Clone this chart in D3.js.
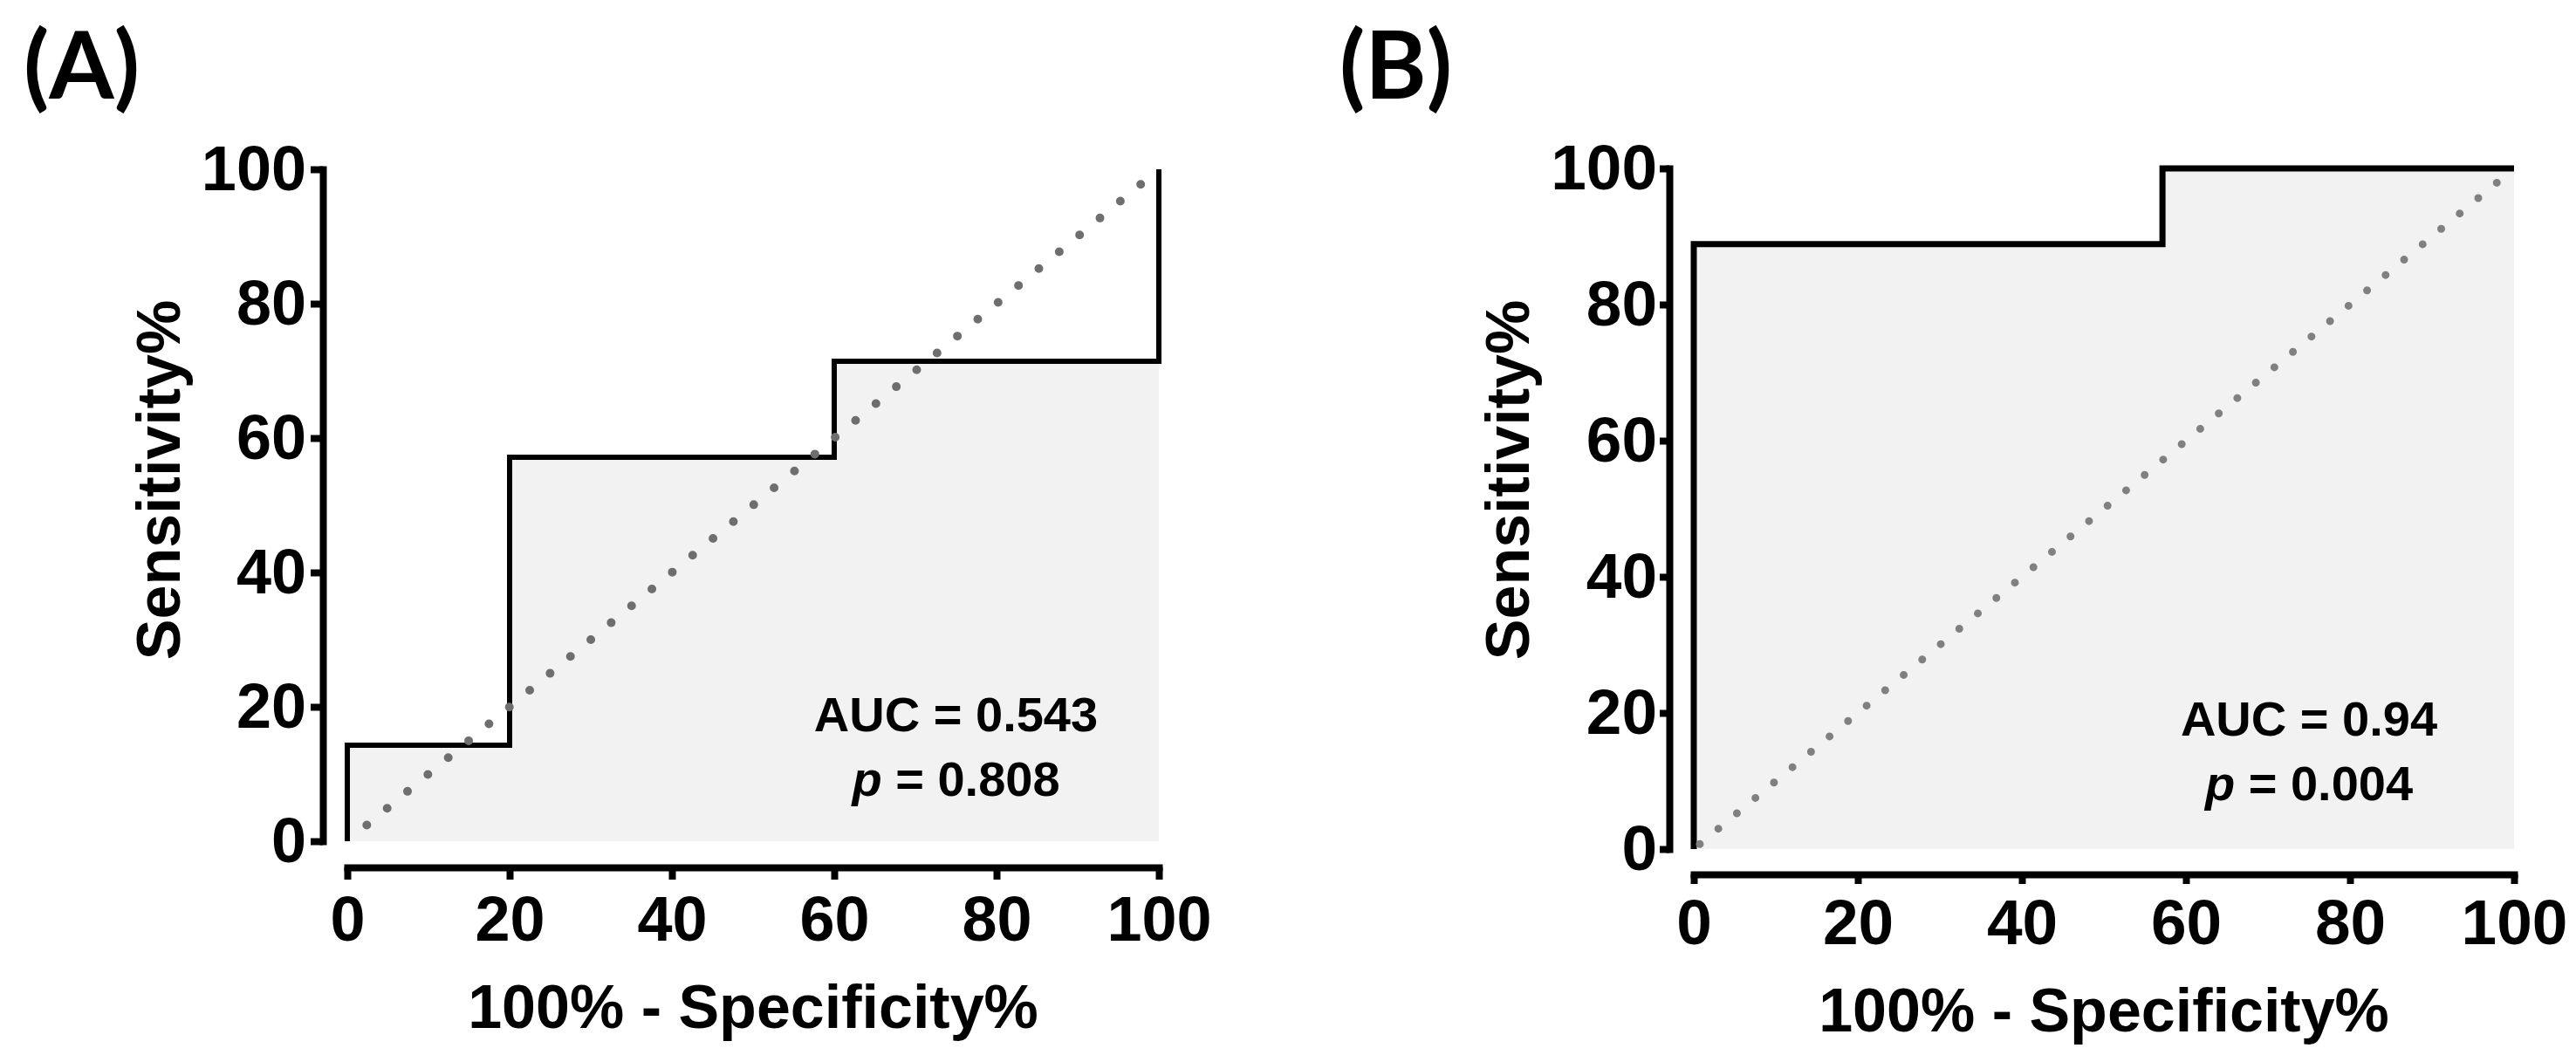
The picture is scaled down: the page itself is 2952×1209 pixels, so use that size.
<!DOCTYPE html>
<html lang="en">
<head>
    <meta charset="UTF-8">
    <title>ROC curves</title>
    <script src="https://cdn.jsdelivr.net/npm/d3@7"></script>
    <style>
        body { margin: 0; background: #fff; }
        svg text { font-family: "Liberation Sans", Arial, sans-serif; font-weight: bold; fill: #000; }
        .panel-label { font-family: Lato, "Open Sans", sans-serif; font-weight: bold; }
    </style>
</head>
<body>
<svg id="canvas" width="2952" height="1209"></svg>
<script>
    // ROC data (x = 100% - specificity%, y = sensitivity%)
    const xTicks = [0, 20, 40, 60, 80, 100];
    const yTicks = [0, 20, 40, 60, 80, 100];

    const rocA_fpr = [0, 0, 20, 20, 60, 60, 100, 100];
    const rocA_tpr = [0, 14.29, 14.29, 57.14, 57.14, 71.43, 71.43, 100];
    const rocB_fpr = [0, 0, 57.14, 57.14, 100];
    const rocB_tpr = [0, 88.89, 88.89, 100, 100];

    const chanceLine = [[0, 0], [100, 100]];

    const panelLabels = ["(A)", "(B)"];
    const aucValues = ["0.543", "0.94"];
    const pValues = ["0.808", "0.004"];

    const xTitle = "100% - Specificity%";
    const yTitle = "Sensitivity%";

    // layout for each panel (pixels)
    const panels = [
        {fpr: rocA_fpr, tpr: rocA_tpr, x0: 398, x1: 1328, y0: 964, y1: 194,
         yAxisX: 370, xAxisY: 994, tick: 14, yPad: 5, xPad: 19, tickFont: 72,
         labelX: 27, yTitleX: 206, curveW: 6, dotColor: "#6e6e6e", dotW: 10, dotGap: 30.3, dotOff: 29,
         textX: 75, textY: 16.4, xTitleY: 1178},
        {fpr: rocB_fpr, tpr: rocB_tpr, x0: 1941, x1: 2881, y0: 973, y1: 193,
         yAxisX: 1913, xAxisY: 1002, tick: 11, yPad: 3, xPad: 17, tickFont: 73,
         labelX: 1535, yTitleX: 1752, curveW: 7, dotColor: "#808080", dotW: 9, dotGap: 27.6, dotOff: 9,
         textX: 75, textY: 16.7, xTitleY: 1182}
    ];

    let svg = d3.select('svg');

    panels.forEach(function (cfg, i) {
        let x = d3.scaleLinear().domain([0, 100]).range([cfg.x0, cfg.x1]);
        let y = d3.scaleLinear().domain([0, 100]).range([cfg.y0, cfg.y1]);
        let pts = cfg.fpr.map((d, k) => [d, cfg.tpr[k]]);

        let g = svg.append('g');

        // shaded area under the curve
        g.append('path')
            .datum(pts)
            .attr('fill', '#f2f2f2')
            .attr('d', d3.area().x(d => x(d[0])).y0(y(0)).y1(d => y(d[1])));

        // ROC step curve
        g.append('path')
            .datum(pts)
            .attr('fill', 'none')
            .attr('stroke', '#000')
            .attr('stroke-width', cfg.curveW)
            .attr('stroke-linejoin', 'miter')
            .attr('d', d3.line().x(d => x(d[0])).y(d => y(d[1])));

        // dotted line of identity
        g.append('path')
            .datum(chanceLine)
            .attr('fill', 'none')
            .attr('stroke', cfg.dotColor)
            .attr('stroke-width', cfg.dotW)
            .attr('stroke-linecap', 'round')
            .attr('stroke-dasharray', '0 ' + cfg.dotGap)
            .attr('stroke-dashoffset', -cfg.dotOff)
            .attr('d', d3.line().x(d => x(d[0])).y(d => y(d[1])));

        // axes, offset from the plot area
        let yAxis = g.append('g')
            .attr('transform', `translate(${cfg.yAxisX},0)`)
            .call(d3.axisLeft(y).tickValues(yTicks).tickSize(cfg.tick).tickSizeOuter(0).tickPadding(cfg.yPad));
        let xAxis = g.append('g')
            .attr('transform', `translate(0,${cfg.xAxisY})`)
            .call(d3.axisBottom(x).tickValues(xTicks).tickSize(cfg.tick).tickSizeOuter(0).tickPadding(cfg.xPad));

        [yAxis, xAxis].forEach(ax => {
            ax.select('.domain').attr('stroke', '#000').attr('stroke-width', 8).attr('stroke-linecap', 'square');
            ax.selectAll('.tick line').attr('stroke', '#000').attr('stroke-width', 8);
            ax.selectAll('.tick text')
                .attr('font-size', cfg.tickFont)
                .attr('font-family', '"Liberation Sans", Arial, sans-serif')
                .attr('font-weight', 'bold')
                .attr('fill', '#000');
        });

        // axis titles
        g.append('text')
            .attr('x', (cfg.x0 + cfg.x1) / 2)
            .attr('y', cfg.xTitleY)
            .attr('text-anchor', 'middle')
            .attr('font-size', 70)
            .text(xTitle);
        g.append('text')
            .attr('transform', `translate(${cfg.yTitleX},550) rotate(-90)`)
            .attr('text-anchor', 'middle')
            .attr('font-size', 70)
            .text(yTitle);

        // panel label
        g.append('text')
            .attr('class', 'panel-label')
            .attr('x', cfg.labelX)
            .attr('y', 113)
            .attr('font-size', 107)
            .text(panelLabels[i]);

        // AUC / p annotation
        let ann = g.append('text')
            .attr('text-anchor', 'middle')
            .attr('font-size', 56);
        ann.append('tspan')
            .attr('x', x(cfg.textX))
            .attr('y', y(cfg.textY))
            .text('AUC = ' + aucValues[i]);
        let l2 = ann.append('tspan')
            .attr('x', x(cfg.textX))
            .attr('y', y(cfg.textY) + 74);
        l2.append('tspan').attr('font-style', 'italic').text('p');
        l2.append('tspan').text(' = ' + pValues[i]);
    });
</script>
</body>
</html>
